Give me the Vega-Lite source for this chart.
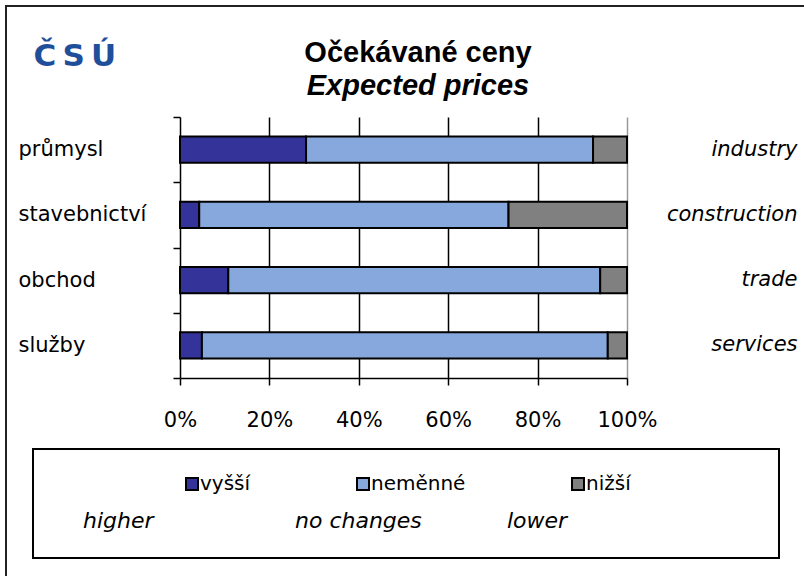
{
  "$schema": "https://vega.github.io/schema/vega-lite/v6.json",
  "autosize": {"type": "none"},
  "width": 800,
  "height": 572,
  "padding": {"left": 6, "top": 6, "right": 0, "bottom": 0},
  "background": "white",
  "title": {
    "text": "Očekávané ceny",
    "subtitle": "Expected prices",
    "frame": "group",
    "anchor": "middle",
    "orient": "top",
    "offset": -106,
    "dx": 12,
    "font": "Liberation Sans",
    "fontSize": 29,
    "fontWeight": "bold",
    "color": "black",
    "subtitleFont": "Liberation Sans",
    "subtitleFontSize": 29,
    "subtitleFontWeight": "bold",
    "subtitleFontStyle": "italic",
    "subtitleColor": "black",
    "subtitlePadding": 4
  },
  "data": {
    "values": [
      {"si": 1, "sector": "průmysl", "sector_en": "industry", "ord": 1, "cat": "vyšší", "cat_en": "higher", "value": 0.282},
      {"si": 1, "sector": "průmysl", "sector_en": "industry", "ord": 2, "cat": "neměnné", "cat_en": "no changes", "value": 0.642},
      {"si": 1, "sector": "průmysl", "sector_en": "industry", "ord": 3, "cat": "nižší", "cat_en": "lower", "value": 0.076},
      {"si": 2, "sector": "stavebnictví", "sector_en": "construction", "ord": 1, "cat": "vyšší", "cat_en": "higher", "value": 0.043},
      {"si": 2, "sector": "stavebnictví", "sector_en": "construction", "ord": 2, "cat": "neměnné", "cat_en": "no changes", "value": 0.692},
      {"si": 2, "sector": "stavebnictví", "sector_en": "construction", "ord": 3, "cat": "nižší", "cat_en": "lower", "value": 0.265},
      {"si": 3, "sector": "obchod", "sector_en": "trade", "ord": 1, "cat": "vyšší", "cat_en": "higher", "value": 0.108},
      {"si": 3, "sector": "obchod", "sector_en": "trade", "ord": 2, "cat": "neměnné", "cat_en": "no changes", "value": 0.832},
      {"si": 3, "sector": "obchod", "sector_en": "trade", "ord": 3, "cat": "nižší", "cat_en": "lower", "value": 0.060},
      {"si": 4, "sector": "služby", "sector_en": "services", "ord": 1, "cat": "vyšší", "cat_en": "higher", "value": 0.049},
      {"si": 4, "sector": "služby", "sector_en": "services", "ord": 2, "cat": "neměnné", "cat_en": "no changes", "value": 0.908},
      {"si": 4, "sector": "služby", "sector_en": "services", "ord": 3, "cat": "nižší", "cat_en": "lower", "value": 0.043}
    ]
  },
  "layer": [
    {
      "mark": {"type": "bar", "stroke": "black", "strokeWidth": 2, "height": {"band": 0.4}},
      "encoding": {
        "y": {
          "field": "sector", "type": "nominal", "sort": {"field": "si"},
          "scale": {"range": [111, 372], "paddingInner": 0, "paddingOuter": 0},
          "axis": {
            "orient": "left", "offset": -174,
            "title": "Č\u2009S\u2009Ú", "titleX": -147, "titleY": 59, "titleAngle": 0,
            "titleAlign": "left", "titleBaseline": "alphabetic",
            "titleFont": "DejaVu Sans", "titleFontSize": 31, "titleFontWeight": "bold", "titleColor": "#1f4e9a",
            "tickBand": "extent", "tickSize": 7, "labelPadding": 155, "labelAlign": "left",
            "labelFont": "DejaVu Sans", "labelFontSize": 21, "labelColor": "black", "labelLimit": 250,
            "domainColor": "black", "tickColor": "black", "domainWidth": 1.5, "tickWidth": 1.5, "grid": false
          }
        },
        "x": {
          "field": "value", "type": "quantitative", "stack": "zero",
          "scale": {"domain": [0, 1], "range": [174, 621], "nice": false},
          "axis": {
            "orient": "bottom", "offset": -200, "format": ".0%", "values": [0, 0.2, 0.4, 0.6, 0.8, 1],
            "grid": false,
            "tickSize": 7, "labelPadding": 24, "labelFont": "DejaVu Sans", "labelFontSize": 21, "labelColor": "black",
            "domainColor": "black", "tickColor": "black", "domainWidth": 1.5, "tickWidth": 1.5,
            "title": null, "labelFlush": false, "labelOverlap": false
          }
        },
        "fill": {
          "field": "cat", "type": "nominal", "sort": {"field": "ord"},
          "scale": {"range": ["#333399", "#86a8dc", "#808080"]},
          "legend": {
            "orient": "none", "legendX": 27, "legendY": 443, "direction": "horizontal", "columns": 3,
            "gridAlign": "none", "columnPadding": 102,
            "title": "\u00a0", "titleOrient": "left", "titleFontSize": 2, "titlePadding": 124,
            "padding": 25, "strokeColor": "black",
            "symbolType": "square", "symbolSize": 144, "symbolStrokeColor": "black", "symbolStrokeWidth": 2, "symbolOpacity": 1,
            "labelFont": "DejaVu Sans", "labelFontSize": 20, "labelColor": "black", "labelOffset": -2,
            "encode": {
              "legend": {"update": {"strokeWidth": {"value": 2}}},
              "title": {"update": {"dx": {"value": 696}, "dy": {"value": 48}}}
            }
          }
        },
        "order": {"field": "ord"}
      }
    },
    {
      "mark": {"type": "bar", "opacity": 0, "height": {"band": 0.4}},
      "encoding": {
        "y": {
          "field": "sector_en", "type": "nominal", "sort": {"field": "si"},
          "scale": {"range": [111, 372], "paddingInner": 0, "paddingOuter": 0},
          "axis": {
            "orient": "right", "offset": -179, "title": null, "ticks": false, "tickSize": 0, "domain": false,
            "labelPadding": 170, "labelAlign": "right", "labelFont": "DejaVu Sans", "labelFontSize": 21,
            "labelFontStyle": "italic", "labelColor": "black", "grid": false, "labelLimit": 250
          }
        },
        "x": {
          "field": "value", "type": "quantitative", "stack": "zero",
          "axis": {
            "orient": "top", "grid": true, "labels": false, "ticks": false, "domain": false, "title": null,
            "values": [0.2, 0.4, 0.6, 0.8, 1],
            "gridColor": {"condition": {"test": "datum.value >= 1", "value": "#9a9a9a"}, "value": "black"},
            "gridWidth": 1.5
          }
        },
        "stroke": {
          "field": "cat_en", "type": "nominal", "sort": {"field": "ord"},
          "scale": {"range": ["black", "black", "black"]},
          "legend": {
            "orient": "none", "legendX": 55, "legendY": 504, "direction": "horizontal", "columns": 3,
            "gridAlign": "all", "columnPadding": 63, "title": null, "padding": 0,
            "symbolSize": 0, "symbolStrokeWidth": 0, "symbolOpacity": 0, "labelOffset": 0,
            "labelFont": "DejaVu Sans", "labelFontSize": 22, "labelFontStyle": "italic", "labelColor": "black"
          }
        },
        "order": {"field": "ord"}
      }
    }
  ],
  "resolve": {"scale": {"y": "independent"}, "axis": {"x": "independent"}},
  "config": {
    "font": "DejaVu Sans",
    "view": {"stroke": "#222222", "strokeWidth": 2}
  }
}
